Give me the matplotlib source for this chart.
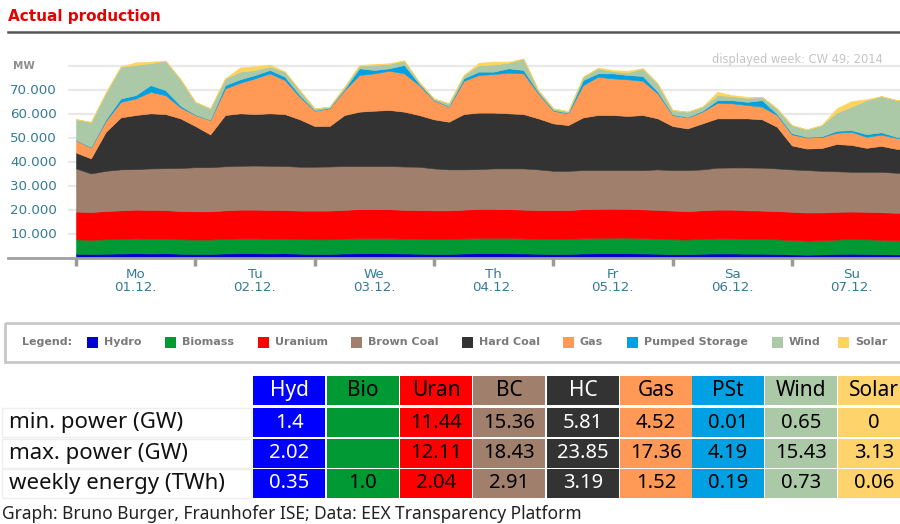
import numpy as np
import matplotlib
matplotlib.use("Agg")
import matplotlib.pyplot as plt
from matplotlib.patches import Rectangle

# production in GW, one value every 3 hours, Mon 01.12. 00:00 to Mon 08.12. 00:00
hours = np.arange(0, 169, 3)

hydro = [1.8, 1.7, 1.8, 1.9, 2.0, 1.9, 2.0, 1.8,
         1.7, 1.7, 1.9, 2.0, 2.0, 1.9, 2.0, 1.8,
         1.7, 1.7, 1.9, 2.0, 2.0, 2.0, 1.9, 1.8,
         1.7, 1.7, 1.9, 2.0, 2.0, 2.0, 1.9, 1.8,
         1.7, 1.7, 1.9, 2.0, 2.0, 2.0, 1.9, 1.8,
         1.6, 1.6, 1.8, 1.9, 1.9, 1.8, 1.8, 1.7,
         1.5, 1.4, 1.5, 1.7, 1.8, 1.7, 1.6, 1.5, 1.5]
biomass = [6.0, 5.9, 6.0, 6.1, 6.2, 6.2, 6.1, 6.0,
           6.0, 6.0, 6.1, 6.2, 6.2, 6.2, 6.1, 6.1,
           6.1, 6.1, 6.2, 6.3, 6.3, 6.3, 6.2, 6.2,
           6.2, 6.2, 6.3, 6.4, 6.4, 6.4, 6.3, 6.2,
           6.3, 6.3, 6.4, 6.4, 6.5, 6.5, 6.4, 6.3,
           6.2, 6.1, 6.2, 6.3, 6.3, 6.2, 6.2, 6.1,
           6.0, 5.9, 5.9, 6.0, 6.1, 6.1, 6.0, 5.9, 5.9]
uranium = [11.6, 11.6, 11.8, 11.9, 12.0, 12.0, 11.9, 11.8,
           11.8, 11.8, 11.9, 12.0, 12.0, 12.0, 11.9, 11.9,
           12.0, 12.0, 12.0, 12.1, 12.1, 12.1, 12.0, 12.0,
           12.0, 12.0, 12.0, 12.1, 12.1, 12.0, 12.0, 12.0,
           12.0, 12.0, 12.1, 12.1, 12.1, 12.0, 12.0, 12.0,
           12.0, 11.9, 11.9, 12.0, 12.0, 11.9, 11.8, 11.8,
           11.8, 11.7, 11.6, 11.6, 11.5, 11.5, 11.5, 11.5, 11.5]
brown_coal = [18.0, 16.1, 16.8, 17.1, 16.9, 17.3, 17.5, 18.0,
              18.4, 18.4, 18.4, 18.3, 18.4, 18.4, 18.4, 18.3,
              18.3, 18.4, 18.3, 18.0, 18.0, 18.0, 18.1, 18.1,
              17.5, 17.1, 16.8, 16.6, 16.9, 17.0, 17.2, 17.0,
              16.4, 16.4, 16.3, 16.2, 16.1, 16.2, 16.4, 16.9,
              16.9, 17.1, 17.1, 17.5, 17.6, 17.9, 17.9, 17.8,
              17.7, 17.7, 17.4, 16.9, 16.6, 16.7, 16.9, 16.7, 16.6]
hard_coal = [6.6, 6.3, 16.3, 21.7, 22.6, 23.0, 22.6, 20.7,
             17.2, 13.7, 21.4, 21.9, 21.5, 21.9, 21.7, 19.8,
             17.0, 16.9, 21.3, 22.7, 23.1, 23.4, 22.9, 21.6,
             20.5, 19.9, 23.1, 23.6, 23.3, 23.0, 22.7, 21.3,
             19.8, 19.1, 22.0, 23.0, 23.0, 22.6, 23.0, 21.3,
             18.4, 17.4, 19.2, 20.6, 20.5, 20.5, 20.2, 17.4,
             10.0, 9.0, 9.5, 11.4, 11.2, 10.0, 10.8, 10.0, 9.8]
gas = [5.2, 4.5, 4.6, 6.5, 6.9, 9.0, 7.9, 4.6,
       4.6, 6.0, 11.1, 12.8, 14.9, 16.7, 14.2, 9.4,
       6.4, 7.4, 10.4, 15.3, 15.6, 16.4, 16.0, 12.5,
       8.0, 6.3, 13.9, 15.7, 16.1, 17.0, 17.0, 10.4,
       5.3, 4.9, 13.5, 16.0, 15.3, 15.3, 14.3, 10.4,
       4.6, 4.6, 4.9, 6.5, 6.3, 5.6, 5.3, 4.9,
       4.6, 4.6, 4.6, 4.7, 5.5, 4.6, 4.7, 4.6, 4.6]
pumped = [0.1, 0.2, 0.6, 1.4, 1.4, 2.8, 2.1, 0.7,
          0.2, 0.1, 1.4, 1.4, 1.4, 1.4, 1.4, 0.7,
          0.2, 0.2, 0.4, 2.8, 1.4, 1.0, 3.5, 0.6,
          0.2, 0.2, 1.0, 1.4, 1.0, 1.8, 1.4, 0.5,
          0.3, 0.2, 2.1, 1.4, 2.1, 1.8, 2.0, 0.8,
          0.3, 0.2, 0.4, 1.1, 1.3, 1.3, 2.7, 0.5,
          0.5, 0.3, 0.3, 0.8, 0.7, 1.1, 1.0, 0.4, 0.4]
wind = [8.7, 10.5, 11.2, 13.3, 12.6, 9.1, 12.3, 11.1,
        5.3, 4.8, 2.8, 3.2, 2.1, 1.5, 2.1, 2.1,
        0.8, 0.5, 1.0, 1.1, 2.2, 1.8, 1.8, 0.8,
        0.5, 1.2, 1.4, 2.7, 3.0, 2.3, 4.8, 0.9,
        0.7, 0.7, 1.4, 2.1, 0.9, 1.1, 3.2, 3.4,
        1.8, 2.2, 1.7, 2.1, 1.7, 1.6, 1.4, 2.3,
        3.4, 3.1, 4.7, 7.6, 9.8, 14.2, 15.1, 15.4, 15.4]
solar = [0, 0, 0, 0.1, 1.1, 0.7, 0, 0,
         0, 0, 0, 1.8, 1.6, 0.8, 0.2, 0,
         0, 0, 0, 0.3, 0.3, 0.3, 0.2, 0,
         0, 0, 0, 1.0, 1.2, 0.5, 0, 0,
         0, 0, 0, 0.3, 0.5, 0.7, 0, 0,
         0, 0, 0, 1.4, 0.4, 0.5, 0, 0,
         0, 0, 0, 1.8, 2.3, 0.4, 0, 0, 0]

names = ["Hydro", "Biomass", "Uranium", "Brown Coal", "Hard Coal", "Gas",
         "Pumped Storage", "Wind", "Solar"]
colors = ["#0000cc", "#009933", "#ff0000", "#a0806c", "#333333", "#ff9955",
          "#00a0e3", "#abc9a6", "#ffd35f"]

days = ["Mo", "Tu", "We", "Th", "Fr", "Sa", "Su"]
dates = ["01.12.", "02.12.", "03.12.", "04.12.", "05.12.", "06.12.", "07.12."]
yticks = [10, 20, 30, 40, 50, 60, 70]

# table
cols = ["Hyd", "Bio", "Uran", "BC", "HC", "Gas", "PSt", "Wind", "Solar"]
rows = ["min. power (GW)", "max. power (GW)", "weekly energy (TWh)"]
min_power = ["1.4", "", "11.44", "15.36", "5.81", "4.52", "0.01", "0.65", "0"]
max_power = ["2.02", "", "12.11", "18.43", "23.85", "17.36", "4.19", "15.43", "3.13"]
weekly_energy = ["0.35", "1.0", "2.04", "2.91", "3.19", "1.52", "0.19", "0.73", "0.06"]
cell_colors = ["#0000ff", "#009933", "#ff0000", "#a0806c", "#333333", "#ff9955",
               "#00a0e3", "#abc9a6", "#ffd36b"]
text_colors = ["white", "black", "black", "black", "white", "black", "black", "black", "black"]

W, H = 900, 524
fig = plt.figure(figsize=(W / 100, H / 100), dpi=100)

# chart axes, 1 day = 119.3 px, x0 = 76 px, 10 GW = 23.95 px, y0 = 258 px
day_px = 119.3
def px2h(px):
    return (px - 76) / day_px * 24

ax = fig.add_axes([8 / W, 1 - 258 / H, (76 + 7 * day_px - 8) / W, 90 * 2.395 / H])
ax.set_facecolor("none")
polys = ax.stackplot(hours, hydro, biomass, uranium, brown_coal, hard_coal, gas,
                     pumped, wind, solar, colors=colors, zorder=2)
for p, c in zip(polys, colors):
    p.set_edgecolor(c)
    p.set_linewidth(0.4)
ax.hlines([10, 20, 30, 40, 50, 60, 70, 80], px2h(68), 168, color="#e9e9e9", lw=1.6, zorder=1)
ax.set_xlim(px2h(8), 168)
ax.set_ylim(0, 90)
for s in ["top", "left", "right"]:
    ax.spines[s].set_visible(False)
ax.spines["bottom"].set_color("#a0a0a0")
ax.spines["bottom"].set_linewidth(2)
ax.set_yticks([])
ax.set_xticks(np.arange(0, 169, 24))
ax.set_xticklabels([])
ax.tick_params(axis="x", direction="out", length=6, width=2.5, color="#9a9a9a")

lab_col = "#357a96"
for v in yticks:
    ax.text(px2h(57), v, f"{v}.000", ha="right", va="center", fontsize=9.6, color=lab_col)
ax.text(px2h(13), 80, "MW", ha="left", va="center", fontsize=7.5, color="#8c8c8c",
        fontweight="bold")
for i, (d, dt) in enumerate(zip(days, dates)):
    ax.text(12 + 24 * i, (258 - 274) / 2.395, d, ha="center", va="center",
            fontsize=9.6, color=lab_col, clip_on=False)
    ax.text(12 + 24 * i, (258 - 287.5) / 2.395, dt, ha="center", va="center",
            fontsize=9.6, color=lab_col, clip_on=False)

# overlay in pixel coordinates for title, legend and table
ov = fig.add_axes([0, 0, 1, 1])
ov.set_xlim(0, W)
ov.set_ylim(H, 0)
ov.set_axis_off()

ov.text(8, 17, "Actual production", color="#e60000", fontsize=11, fontweight="bold",
        va="center", ha="left")
ov.plot([8, 900], [31.5, 31.5], color="#555555", lw=1.8)
ov.text(883, 60, "displayed week: CW 49; 2014", ha="right", va="center",
        fontsize=8.3, color="#c4c4c4")

# legend box
ov.add_patch(Rectangle((5, 323), 910, 39, fill=False, ec="#c8c8c8", lw=2))
ov.text(22, 342, "Legend:", fontsize=8, fontweight="bold", color="#7a7a7a",
        va="center", ha="left")
sq_x = [87, 165, 258, 351, 462, 563, 627, 772, 838]
for x, n, c in zip(sq_x, names, colors):
    ov.add_patch(Rectangle((x, 336.5), 11, 11, fc=c, ec="none"))
    ov.text(x + 17, 342, n, fontsize=8, fontweight="bold", color="#7a7a7a",
            va="center", ha="left")

# table
col_x = [253, 327, 400, 473, 547, 620, 692, 765, 838]
row_y = [376, 408, 439, 469]
cell_h = 29
tfont = "Noto Sans"
for j, (x, name) in enumerate(zip(col_x, cols)):
    w = 72 if j < len(cols) - 1 else 80
    for i, y in enumerate(row_y):
        ov.add_patch(Rectangle((x, y), w, cell_h, fc=cell_colors[j], ec="none"))
    ov.text(x + 36, row_y[0] + cell_h / 2, name, ha="center", va="center",
            fontsize=15, family=tfont, color=text_colors[j])
    for i, vals in enumerate([min_power, max_power, weekly_energy]):
        ov.text(x + 36, row_y[i + 1] + cell_h / 2, vals[j], ha="center", va="center",
                fontsize=14.5, family=tfont, color=text_colors[j])
for i, r in enumerate(rows):
    y = row_y[i + 1]
    ov.add_patch(Rectangle((2, y), 249, cell_h, fc="white", ec="#eeeeee", lw=1))
    ov.text(9, y + cell_h / 2, r, ha="left", va="center", fontsize=16, family=tfont,
            color="#111111")

ov.text(2, 514, "Graph: Bruno Burger, Fraunhofer ISE; Data: EEX Transparency Platform",
        ha="left", va="center", fontsize=12.5, family=tfont, color="#222222")

fig.savefig("out.png", dpi=100)
